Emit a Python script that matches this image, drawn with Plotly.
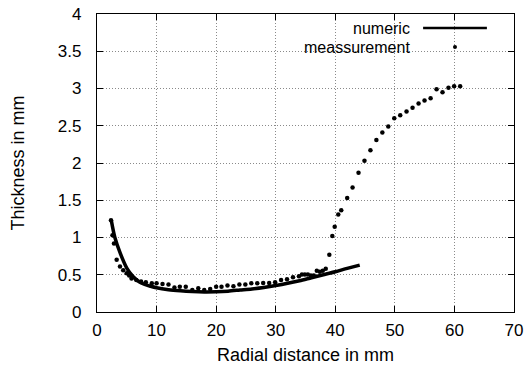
import plotly.graph_objects as go

# numeric model curve
num_x = [2.4, 3.0, 3.9, 5.0, 6.0, 7.0, 8.0, 9.0, 10.0, 12.0, 14.0, 16.0, 18.0, 20.0,
         22.0, 24.0, 26.0, 28.0, 30.0, 32.0, 34.0, 36.0, 38.0, 40.0, 42.0, 44.1]
num_y = [1.23, 1.0, 0.79, 0.59, 0.48, 0.41, 0.37, 0.345, 0.325, 0.30, 0.285, 0.275, 0.27, 0.272,
         0.28, 0.295, 0.31, 0.33, 0.355, 0.385, 0.42, 0.46, 0.50, 0.54, 0.585, 0.63]

# measurement points
meas_x = [2.35, 2.6, 2.85, 3.3, 3.86, 4.4, 4.98, 5.4, 5.8, 6.6, 7.4, 8.2, 9.2, 10, 11, 12, 13,
          13.9, 14.9, 16, 17, 18, 19, 20, 20.9, 21.9, 22.9, 23.9, 24.9, 25.9, 26.9, 27.9, 28.9,
          29.9, 30.9, 31.9, 32.9, 33.9, 34.4, 34.9, 35.4, 35.9, 36.4, 36.9, 37.4, 37.9, 38.4,
          39.0, 39.5, 39.9, 40.5, 41.0, 42.0, 42.9, 43.9, 44.9, 45.9, 46.9, 47.9, 48.9, 49.9,
          50.9, 51.96, 52.97, 53.98, 54.98, 56.0, 57.0, 58.0, 59.0, 59.95, 60.96]
meas_y = [1.23, 1.03, 0.92, 0.70, 0.61, 0.56, 0.52, 0.49, 0.45, 0.43, 0.41, 0.40, 0.385, 0.385,
          0.375, 0.37, 0.33, 0.34, 0.34, 0.295, 0.32, 0.295, 0.31, 0.34, 0.34, 0.355, 0.345,
          0.37, 0.37, 0.385, 0.385, 0.39, 0.39, 0.40, 0.43, 0.44, 0.465, 0.48, 0.505, 0.505,
          0.505, 0.49, 0.49, 0.555, 0.54, 0.555, 0.58, 0.77, 1.02, 1.145, 1.31, 1.365, 1.53,
          1.67, 1.87, 2.03, 2.17, 2.31, 2.41, 2.49, 2.60, 2.64, 2.69, 2.74, 2.80, 2.84, 2.87,
          2.99, 2.95, 3.01, 3.03, 3.03]

x_ticks = [0, 10, 20, 30, 40, 50, 60, 70]
y_ticks = [0, 0.5, 1, 1.5, 2, 2.5, 3, 3.5, 4]
y_tick_labels = ["0", "0.5", "1", "1.5", "2", "2.5", "3", "3.5", "4"]
series_names = ["numeric", "meassurement"]

FONT = "Liberation Sans, Arial, Helvetica, sans-serif"
FS = 18
TFS = 17
LFS = 16

fig = go.Figure()
fig.add_trace(go.Scatter(x=num_x, y=num_y, mode="lines", name=series_names[0],
                         line=dict(color="black", width=3.5, shape="spline", smoothing=0.8),
                         showlegend=False))
fig.add_trace(go.Scatter(x=meas_x, y=meas_y, mode="markers", name=series_names[1],
                         marker=dict(color="black", size=4.5), showlegend=False))

axis_common = dict(
    showline=True, linecolor="black", linewidth=1.2, mirror="allticks",
    ticks="inside", ticklen=6, tickcolor="black",
    showgrid=True, gridcolor="#8a8a8a", griddash="1px,2px", gridwidth=1,
    zeroline=False, automargin=False,
    tickfont=dict(family=FONT, size=TFS, color="black"),
)

fig.update_xaxes(range=[0, 70], tickvals=x_ticks, ticklabelstandoff=2,
                 title=dict(text="Radial distance in mm", font=dict(family=FONT, size=FS, color="black"),
                            standoff=16),
                 **axis_common)
fig.update_yaxes(range=[0, 4], tickvals=y_ticks, ticktext=y_tick_labels, ticklabelstandoff=11,
                 title=dict(text="Thickness in mm", font=dict(family=FONT, size=FS, color="black"),
                            standoff=28),
                 **axis_common)

# gnuplot-style legend (text right-aligned, sample on the right)
fig.add_annotation(x=0.755, y=0.953, xref="paper", yref="paper", text=series_names[0],
                   showarrow=False, xanchor="right", yanchor="middle",
                   font=dict(family=FONT, size=LFS, color="black"))
fig.add_annotation(x=0.755, y=0.889, xref="paper", yref="paper", text=series_names[1],
                   showarrow=False, xanchor="right", yanchor="middle",
                   font=dict(family=FONT, size=LFS, color="black"))
fig.add_shape(type="line", xref="paper", yref="paper", x0=0.782, x1=0.935, y0=0.953, y1=0.953,
              line=dict(color="black", width=2.5))
fig.add_shape(type="circle", xref="paper", yref="paper",
              x0=0.8585 - 0.0048, x1=0.8585 + 0.0048, y0=0.889 - 0.0068, y1=0.889 + 0.0068,
              fillcolor="black", line=dict(width=0))

fig.update_layout(
    width=526, height=365,
    margin=dict(l=97, r=12, t=14, b=53),
    plot_bgcolor="white", paper_bgcolor="white",
    font=dict(family=FONT, size=FS, color="black"),
)

fig.write_html("out.html", config={"displayModeBar": False},
               post_script="document.body.style.margin='0';document.body.style.overflow='hidden';")
